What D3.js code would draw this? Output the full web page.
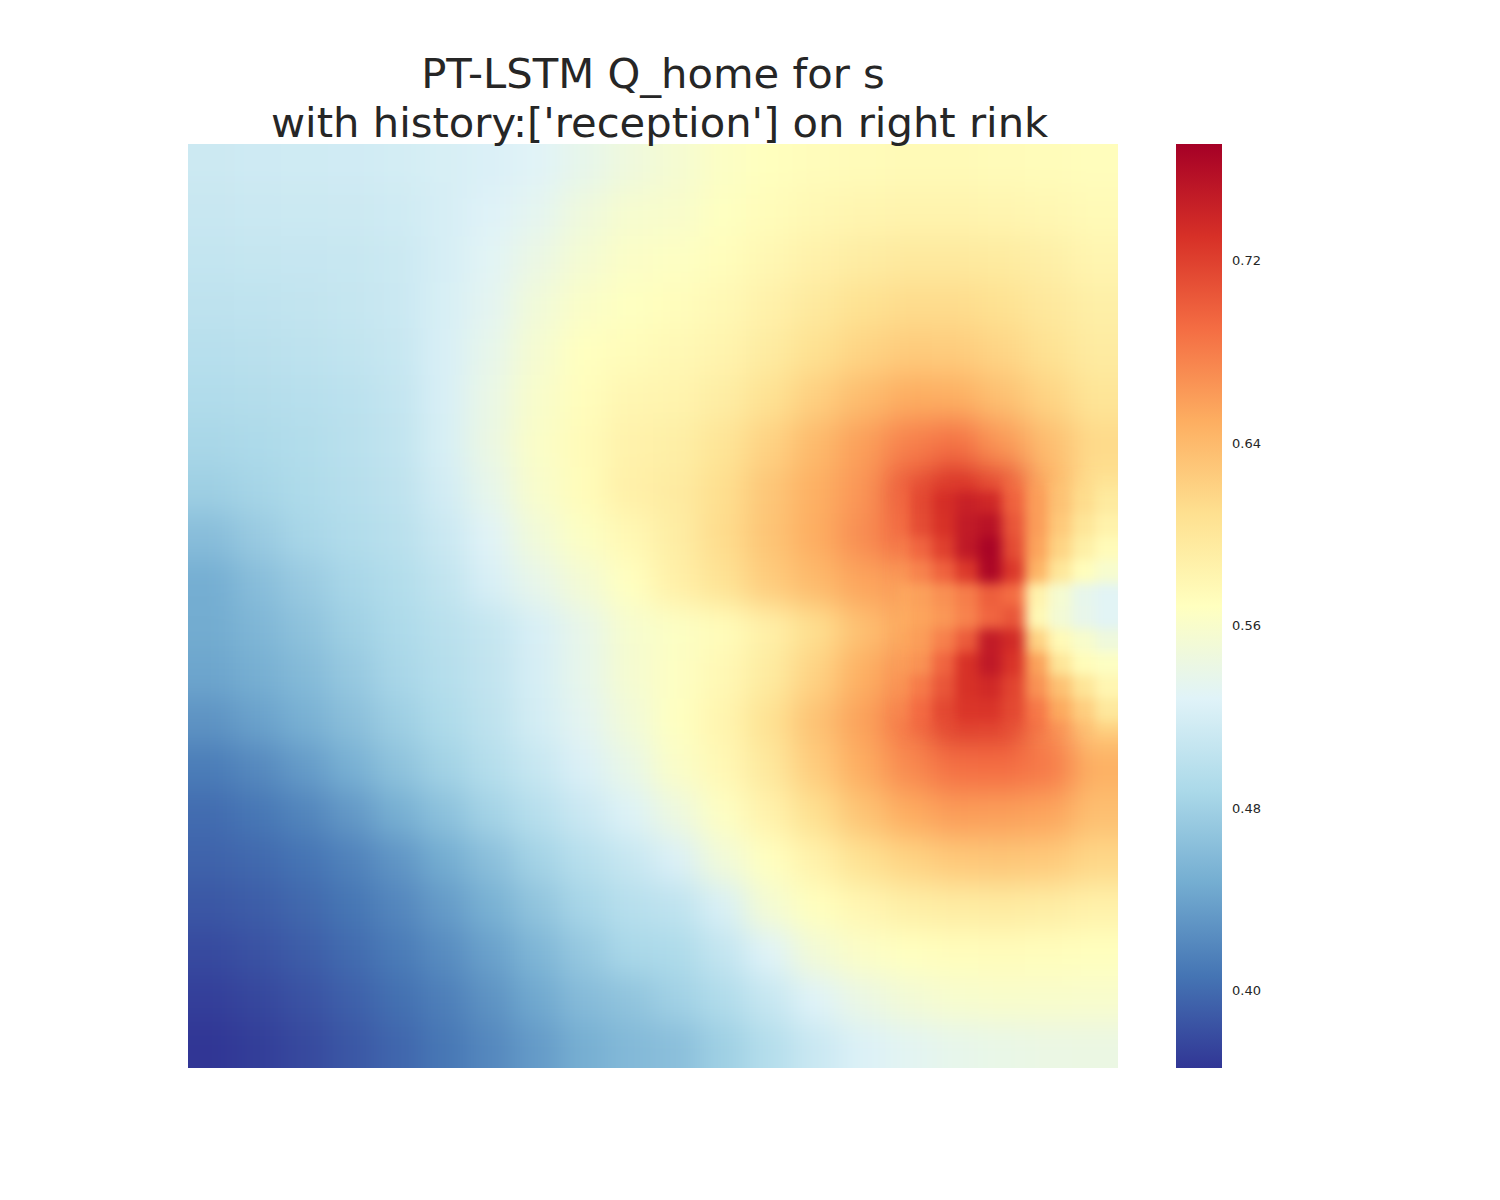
<!DOCTYPE html>
<html>
<head>
<meta charset="utf-8">
<script src="https://cdn.jsdelivr.net/npm/d3@7"></script>
<style>
  body { margin: 0; background: #fff; }
  text { font-family: "DejaVu Sans", sans-serif; fill: #262626; }
</style>
</head>
<body>
<svg id="chart" width="1500" height="1200"></svg>
<script>
// title lines (second one keeps matplotlib's leading space)
const titleLines = ["PT-LSTM Q_home for s", " with history:['reception'] on right rink"];

// colorbar
const colorTicks = [0.40, 0.48, 0.56, 0.64, 0.72];
const valueRange = [0.366, 0.771];

// Q_home, 20 x 20 coarse cells, top row first
const qHome = [
  [0.513, 0.514, 0.515, 0.516, 0.518, 0.521, 0.524, 0.529, 0.537, 0.547, 0.555, 0.564, 0.569, 0.572, 0.574, 0.575, 0.575, 0.574, 0.573, 0.571],
  [0.510, 0.511, 0.512, 0.513, 0.515, 0.520, 0.527, 0.534, 0.547, 0.557, 0.560, 0.567, 0.573, 0.578, 0.581, 0.583, 0.583, 0.581, 0.579, 0.575],
  [0.506, 0.507, 0.508, 0.509, 0.512, 0.520, 0.530, 0.542, 0.554, 0.563, 0.566, 0.571, 0.579, 0.587, 0.593, 0.597, 0.597, 0.595, 0.589, 0.581],
  [0.502, 0.503, 0.505, 0.507, 0.511, 0.521, 0.533, 0.550, 0.562, 0.567, 0.571, 0.577, 0.587, 0.597, 0.607, 0.612, 0.612, 0.607, 0.598, 0.589],
  [0.497, 0.499, 0.501, 0.504, 0.509, 0.522, 0.537, 0.556, 0.568, 0.573, 0.577, 0.583, 0.594, 0.608, 0.619, 0.626, 0.625, 0.618, 0.606, 0.594],
  [0.492, 0.494, 0.497, 0.500, 0.506, 0.522, 0.541, 0.560, 0.571, 0.580, 0.583, 0.592, 0.606, 0.623, 0.638, 0.650, 0.649, 0.635, 0.619, 0.603],
  [0.486, 0.489, 0.493, 0.498, 0.504, 0.521, 0.543, 0.562, 0.574, 0.586, 0.590, 0.603, 0.620, 0.640, 0.659, 0.678, 0.688, 0.664, 0.637, 0.614],
  [0.478, 0.484, 0.490, 0.496, 0.502, 0.517, 0.537, 0.559, 0.573, 0.588, 0.594, 0.610, 0.630, 0.648, 0.665, 0.702, 0.730, 0.709, 0.646, 0.606],
  [0.462, 0.474, 0.485, 0.492, 0.498, 0.511, 0.529, 0.550, 0.565, 0.578, 0.592, 0.612, 0.632, 0.650, 0.670, 0.693, 0.737, 0.735, 0.641, 0.588],
  [0.448, 0.462, 0.474, 0.485, 0.493, 0.504, 0.522, 0.538, 0.553, 0.568, 0.588, 0.605, 0.625, 0.640, 0.655, 0.662, 0.693, 0.720, 0.597, 0.549],
  [0.446, 0.455, 0.466, 0.479, 0.489, 0.498, 0.507, 0.522, 0.538, 0.557, 0.565, 0.573, 0.588, 0.610, 0.635, 0.654, 0.680, 0.721, 0.582, 0.546],
  [0.441, 0.449, 0.459, 0.472, 0.485, 0.495, 0.505, 0.520, 0.537, 0.556, 0.566, 0.577, 0.595, 0.620, 0.648, 0.668, 0.715, 0.733, 0.640, 0.585],
  [0.428, 0.438, 0.450, 0.463, 0.477, 0.490, 0.502, 0.518, 0.533, 0.550, 0.567, 0.582, 0.606, 0.633, 0.657, 0.684, 0.718, 0.717, 0.672, 0.625],
  [0.412, 0.421, 0.434, 0.450, 0.466, 0.481, 0.495, 0.509, 0.524, 0.540, 0.562, 0.577, 0.598, 0.625, 0.650, 0.672, 0.688, 0.690, 0.682, 0.648],
  [0.401, 0.408, 0.418, 0.432, 0.449, 0.465, 0.482, 0.497, 0.511, 0.526, 0.545, 0.566, 0.585, 0.609, 0.632, 0.650, 0.660, 0.659, 0.655, 0.636],
  [0.395, 0.399, 0.406, 0.416, 0.430, 0.447, 0.464, 0.482, 0.497, 0.509, 0.524, 0.550, 0.568, 0.586, 0.606, 0.619, 0.628, 0.630, 0.627, 0.616],
  [0.387, 0.391, 0.398, 0.407, 0.419, 0.434, 0.451, 0.468, 0.485, 0.497, 0.503, 0.523, 0.554, 0.569, 0.580, 0.589, 0.593, 0.594, 0.592, 0.587],
  [0.379, 0.384, 0.391, 0.400, 0.411, 0.423, 0.438, 0.455, 0.472, 0.487, 0.490, 0.506, 0.528, 0.552, 0.563, 0.568, 0.571, 0.572, 0.571, 0.569],
  [0.372, 0.377, 0.384, 0.393, 0.403, 0.414, 0.428, 0.444, 0.460, 0.468, 0.480, 0.492, 0.509, 0.528, 0.542, 0.552, 0.558, 0.560, 0.560, 0.559],
  [0.366, 0.371, 0.378, 0.387, 0.397, 0.408, 0.420, 0.434, 0.449, 0.458, 0.464, 0.479, 0.495, 0.511, 0.525, 0.532, 0.537, 0.540, 0.542, 0.543]
];

// finer read (half-cell steps) around the peak: coarse columns 15-19, rows 7-12
const nearPointCols = [15, 20];
const nearPointRows = [7, 13];
const qHomeNearPoint = [
  [0.692, 0.712, 0.722, 0.725, 0.712, 0.688, 0.658, 0.632, 0.614, 0.600],
  [0.690, 0.714, 0.732, 0.743, 0.738, 0.697, 0.660, 0.633, 0.612, 0.596],
  [0.688, 0.712, 0.730, 0.748, 0.756, 0.705, 0.660, 0.628, 0.602, 0.586],
  [0.676, 0.695, 0.720, 0.750, 0.768, 0.712, 0.656, 0.619, 0.590, 0.574],
  [0.664, 0.677, 0.697, 0.725, 0.765, 0.725, 0.645, 0.600, 0.571, 0.558],
  [0.650, 0.658, 0.668, 0.680, 0.700, 0.690, 0.585, 0.556, 0.537, 0.530],
  [0.648, 0.656, 0.664, 0.677, 0.695, 0.705, 0.578, 0.553, 0.538, 0.530],
  [0.652, 0.660, 0.678, 0.702, 0.748, 0.735, 0.620, 0.575, 0.560, 0.548],
  [0.657, 0.667, 0.695, 0.730, 0.750, 0.728, 0.657, 0.601, 0.573, 0.566],
  [0.664, 0.682, 0.705, 0.730, 0.736, 0.717, 0.667, 0.634, 0.602, 0.580],
  [0.671, 0.692, 0.714, 0.727, 0.728, 0.714, 0.683, 0.652, 0.624, 0.598],
  [0.678, 0.695, 0.711, 0.720, 0.718, 0.709, 0.690, 0.665, 0.637, 0.614]
];

// RdYlBu_r stops, low to high
const rdylbuR = ["#313695", "#4575b4", "#74add1", "#abd9e9", "#e0f3f8", "#ffffbf",
                 "#fee090", "#fdae61", "#f46d43", "#d73027", "#a50026"];

const plot = { left: 188, top: 144, width: 930, height: 924 };
const bar = { left: 1176, width: 46 };

const svg = d3.select("#chart");
const nRows = qHome.length, nCols = qHome[0].length;

const x = d3.scaleLinear().domain([0, nCols]).range([plot.left, plot.left + plot.width]);
const y = d3.scaleLinear().domain([0, nRows]).range([plot.top, plot.top + plot.height]);
const color = d3.scaleSequential(d3.piecewise(d3.interpolateRgb, rdylbuR)).domain(valueRange).clamp(true);

const defs = svg.append("defs");
defs.append("clipPath").attr("id", "plotClip")
  .append("rect")
  .attr("x", plot.left).attr("y", plot.top)
  .attr("width", plot.width).attr("height", plot.height);

function blurFilter(id, sd) {
  defs.append("filter").attr("id", id)
    .attr("filterUnits", "userSpaceOnUse")
    .attr("x", 0).attr("y", 0).attr("width", 1500).attr("height", 1200)
    .attr("color-interpolation-filters", "sRGB")
    .append("feGaussianBlur").attr("stdDeviation", sd);
}
// soften the blocky cells so the field reads as smooth like the original
blurFilter("smooth", 15);
blurFilter("smoothFine", 6);
blurFilter("feather", 9);

// edge cells repeated outside the grid so the blur does not fade at borders
function paddedCells(grid, pad) {
  const nr = grid.length, nc = grid[0].length, out = [];
  for (let r = -pad; r < nr + pad; r++) {
    for (let c = -pad; c < nc + pad; c++) {
      const rr = Math.max(0, Math.min(nr - 1, r));
      const cc = Math.max(0, Math.min(nc - 1, c));
      out.push({ r, c, v: grid[rr][cc] });
    }
  }
  return out;
}

function drawCells(g, cells, sx, sy) {
  g.selectAll("rect")
    .data(cells)
    .join("rect")
    .attr("x", d => sx(d.c))
    .attr("y", d => sy(d.r))
    .attr("width", d => sx(d.c + 1) - sx(d.c) + 0.6)
    .attr("height", d => sy(d.r + 1) - sy(d.r) + 0.6)
    .attr("fill", d => color(d.v));
}

const heat = svg.append("g").attr("clip-path", "url(#plotClip)");
drawCells(heat.append("g").attr("filter", "url(#smooth)"), paddedCells(qHome, 3), x, y);

// finer patch laid over the coarse field, faded in at its edges
const px = d3.scaleLinear().domain([0, qHomeNearPoint[0].length])
  .range([x(nearPointCols[0]), x(nearPointCols[1])]);
const py = d3.scaleLinear().domain([0, qHomeNearPoint.length])
  .range([y(nearPointRows[0]), y(nearPointRows[1])]);

defs.append("mask").attr("id", "patchMask")
  .attr("maskUnits", "userSpaceOnUse")
  .attr("x", 0).attr("y", 0).attr("width", 1500).attr("height", 1200)
  .append("rect")
  .attr("x", px.range()[0] + 16).attr("y", py.range()[0] + 16)
  .attr("width", px.range()[1] - px.range()[0])
  .attr("height", py.range()[1] - py.range()[0] - 32)
  .attr("fill", "#fff")
  .attr("filter", "url(#feather)");

drawCells(heat.append("g").attr("mask", "url(#patchMask)")
  .append("g").attr("filter", "url(#smoothFine)"), paddedCells(qHomeNearPoint, 3), px, py);

// colorbar
const grad = defs.append("linearGradient").attr("id", "cbar")
  .attr("x1", 0).attr("y1", 1).attr("x2", 0).attr("y2", 0);
grad.selectAll("stop")
  .data(rdylbuR)
  .join("stop")
  .attr("offset", (d, i) => i / (rdylbuR.length - 1))
  .attr("stop-color", d => d);

svg.append("rect")
  .attr("x", bar.left).attr("y", plot.top)
  .attr("width", bar.width).attr("height", plot.height)
  .attr("fill", "url(#cbar)");

const cScale = d3.scaleLinear().domain(valueRange).range([plot.top + plot.height, plot.top]);
const cAxis = svg.append("g")
  .attr("transform", `translate(${bar.left + bar.width},0)`)
  .call(d3.axisRight(cScale).tickValues(colorTicks).tickSize(0).tickPadding(10).tickFormat(d3.format(".2f")));
cAxis.select(".domain").remove();
cAxis.selectAll("text")
  .style("font-family", "'DejaVu Sans', sans-serif")
  .style("font-size", "13px")
  .attr("fill", "#262626");

// title
svg.append("g").selectAll("text")
  .data(titleLines)
  .join("text")
  .attr("x", plot.left + plot.width / 2)
  .attr("y", (d, i) => 88 + i * 49)
  .attr("text-anchor", "middle")
  .style("font-size", "41.7px")
  .style("white-space", "pre")
  .text(d => d);
</script>
</body>
</html>
